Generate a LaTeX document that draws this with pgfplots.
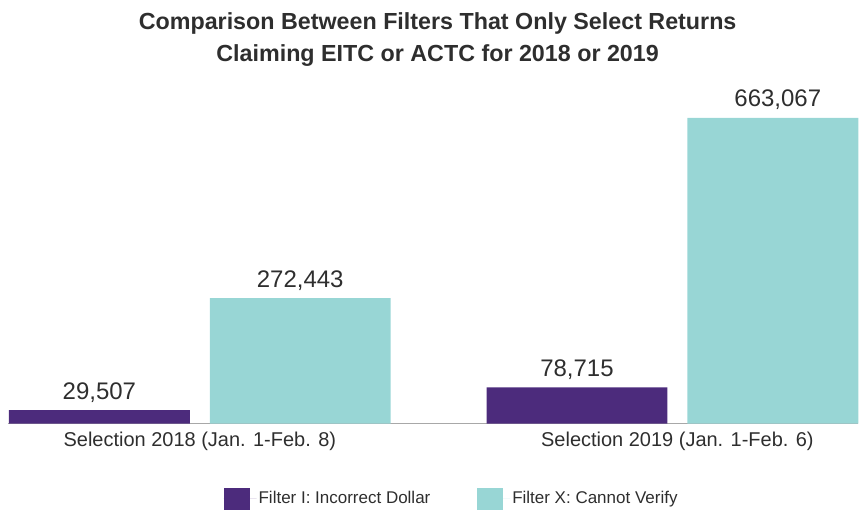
\documentclass[border=0pt]{standalone}
\usepackage{pgfplots}
\pgfplotsset{compat=1.18}
\usepackage{fontspec}
\setmainfont{Liberation Sans}
\definecolor{fpurple}{HTML}{4C2B7C}
\definecolor{fteal}{HTML}{98D6D5}
\definecolor{linegray}{HTML}{A8A8A8}
\definecolor{textgray}{HTML}{2E2E2E}
\begin{document}
\begin{tikzpicture}
\path (-8bp,-86bp) rectangle (851bp,424bp);
\begin{axis}[
  at={(0,0)}, anchor=south west,
  scale only axis, width=851bp, height=424bp,
  xmin=-0.4017, xmax=1.3787, ymin=0, ymax=918759,
  axis x line=bottom, axis y line=none,
  axis line style={-, draw=linegray, line width=1.5bp},
  ybar=20bp, bar width=181bp,
  xtick={0,1},
  xticklabels={Selection 2018 (Jan. 1-Feb. 8), Selection 2019 (Jan. 1-Feb. 6)},
  major tick length=0,
  xticklabel style={font=\fontsize{20bp}{24bp}\selectfont, text=textgray, anchor=base, yshift=-23bp, inner sep=0},
  nodes near coords,
  every node near coord/.append style={font=\fontsize{24bp}{28bp}\selectfont, text=textgray, anchor=base, yshift=11bp, inner sep=0,
    /pgf/number format/fixed, /pgf/number format/precision=0,
    /pgf/number format/1000 sep={,}, /pgf/number format/assume math mode=true},
  title={Comparison Between Filters That Only Select Returns\\Claiming EITC or ACTC for 2018 or 2019},
  title style={at={(axis description cs:0.5053,0.9575)}, anchor=north, inner sep=0, align=center,
    font=\fontsize{23.3bp}{32bp}\selectfont\bfseries, text=textgray},
  legend columns=2,
  legend style={at={(axis description cs:0.5217,-0.1769)}, anchor=center, draw=none, fill=none,
    font=\fontsize{17bp}{20bp}\selectfont, text=textgray,
    /tikz/every even column/.append style={column sep=45bp}},
  legend image code/.code={\fill[#1] (0bp,-11bp) rectangle (26bp,11bp); \path (0bp,0bp) -- (33bp,0bp);},
]
\addplot[fill=fpurple, draw=none] coordinates {(0,29507) (1,78715)};
\addplot[fill=fteal, draw=none] coordinates {(0,272443) (1,663067)};
\legend{Filter I: Incorrect Dollar, Filter X: Cannot Verify}
\end{axis}
\end{tikzpicture}
\end{document}
